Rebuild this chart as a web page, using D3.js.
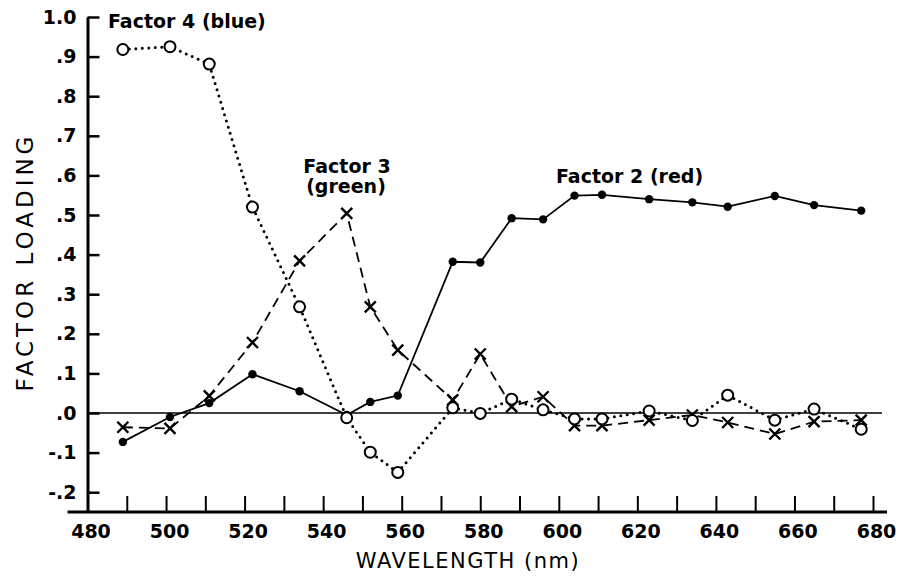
<!DOCTYPE html>
<html>
<head>
<meta charset="utf-8">
<script src="https://cdn.jsdelivr.net/npm/d3@7"></script>
<style>
  body { margin: 0; background: #fff; }
  svg { display: block; }
  .tick text { font-family: "DejaVu Sans", sans-serif; font-weight: bold; font-size: 19px; fill: #000; }
</style>
</head>
<body>
<div id="chart"></div>
<script>
// wavelengths (nm) where the loadings were measured
const wavelengths = [489, 501, 511, 522, 534, 546, 552, 559, 573, 580, 588, 596, 604, 611, 623, 634, 643, 655, 665, 677];

// factor loadings
const factor2 = [-0.073, -0.010, 0.025, 0.098, 0.055, -0.005, 0.028, 0.044, 0.382, 0.380, 0.492, 0.489, 0.549, 0.551, 0.540, 0.532, 0.521, 0.548, 0.525, 0.511];
const factor3 = [-0.036, -0.039, 0.043, 0.178, 0.384, 0.504, 0.268, 0.159, 0.033, 0.149, 0.016, 0.041, -0.032, -0.032, -0.018, -0.005, -0.024, -0.053, -0.022, -0.018];
const factor4 = [0.918, 0.925, 0.881, 0.520, 0.268, -0.012, -0.099, -0.150, 0.013, -0.001, 0.035, 0.008, -0.015, -0.015, 0.005, -0.019, 0.045, -0.018, 0.010, -0.041];

const xTicks = d3.range(480, 681, 10);
const yTicks = [-0.2, -0.1, 0, 0.1, 0.2, 0.3, 0.4, 0.5, 0.6, 0.7, 0.8, 0.9, 1.0];
const yLabels = ["-.2", "-.1", ".0", ".1", ".2", ".3", ".4", ".5", ".6", ".7", ".8", ".9", "1.0"];

const w = 903;
const h = 581;

const svg = d3.select("#chart").
append("svg").
attr("width", w).
attr("height", h);

const xScale = d3.scaleLinear().
domain([480, 680]).
range([87.5, 873]);

const yScale = d3.scaleLinear().
domain([-0.25, 1.0]).
range([512, 17]);

//y axis, ticks pointing into the plot
const yAxis = d3.axisLeft(yScale).
tickValues(yTicks).
tickFormat((d, i) => yLabels[i]).
tickSize(-12).
tickSizeOuter(0).
tickPadding(11);

const gy = svg.append("g").
attr("transform", "translate(" + xScale(480) + ",0)").
call(yAxis);
gy.select(".domain").attr("stroke-width", 3);
gy.selectAll(".tick line").attr("stroke-width", 2.5);

//x axis, ticks every 10 nm, labels every 20
const xAxis = d3.axisBottom(xScale).
tickValues(xTicks).
tickFormat(d => d % 20 === 0 ? d : "").
tickSize(-16).
tickSizeOuter(0).
tickPadding(13);

const gx = svg.append("g").
attr("transform", "translate(0," + yScale(-0.25) + ")").
call(xAxis);
gx.select(".domain").remove();
gx.selectAll(".tick line").attr("stroke-width", 2);
gx.selectAll(".tick text").attr("dx", 3);

//the x axis line runs a little past both ends
gx.append("line").
attr("x1", xScale(480) - 20).
attr("x2", xScale(680) + 14).
attr("stroke", "#000").
attr("stroke-width", 3);

//zero line
svg.append("line").
attr("x1", xScale(480)).
attr("x2", xScale(680) + 9).
attr("y1", yScale(0)).
attr("y2", yScale(0)).
attr("stroke", "#000").
attr("stroke-width", 1.6);

const series = [
  { values: factor2, dash: null, cap: "butt", width: 1.8 },
  { values: factor3, dash: "10,6", cap: "butt", width: 1.8 },
  { values: factor4, dash: "0,6.5", cap: "round", width: 3 }];

const line = d3.line().
x(d => xScale(d[0])).
y(d => yScale(d[1]));

series.forEach(s => {
  svg.append("path").
  datum(wavelengths.map((wl, i) => [wl, s.values[i]])).
  attr("d", line).
  attr("fill", "none").
  attr("stroke", "#000").
  attr("stroke-width", s.width).
  attr("stroke-linecap", s.cap).
  attr("stroke-dasharray", s.dash);
});

//factor 2 markers: filled dots
svg.selectAll(".dot2").
data(wavelengths.map((wl, i) => [wl, factor2[i]])).
enter().
append("circle").
attr("class", "dot2").
attr("cx", d => xScale(d[0])).
attr("cy", d => yScale(d[1])).
attr("r", 4.2).
attr("fill", "#000");

//factor 3 markers: crosses
const cross = 5.5;
svg.selectAll(".cross3").
data(wavelengths.map((wl, i) => [wl, factor3[i]])).
enter().
append("path").
attr("class", "cross3").
attr("d", d => {
  const cx = xScale(d[0]);
  const cy = yScale(d[1]);
  return "M" + (cx - cross) + "," + (cy - cross) + "L" + (cx + cross) + "," + (cy + cross) +
  "M" + (cx - cross) + "," + (cy + cross) + "L" + (cx + cross) + "," + (cy - cross);
}).
attr("stroke", "#000").
attr("stroke-width", 2.4);

//factor 4 markers: open circles
svg.selectAll(".dot4").
data(wavelengths.map((wl, i) => [wl, factor4[i]])).
enter().
append("circle").
attr("class", "dot4").
attr("cx", d => xScale(d[0])).
attr("cy", d => yScale(d[1])).
attr("r", 5.5).
attr("fill", "#fff").
attr("stroke", "#000").
attr("stroke-width", 2);

//series labels
const labelFont = "bold 19px 'DejaVu Sans', sans-serif";
const labels = [
  { text: "Factor 4 (blue)", x: 108, y: 28, anchor: "start" },
  { text: "Factor 3", x: 347, y: 173, anchor: "middle" },
  { text: "(green)", x: 346, y: 193, anchor: "middle" },
  { text: "Factor 2 (red)", x: 556, y: 183, anchor: "start" }];

svg.selectAll(".label").
data(labels).
enter().
append("text").
attr("class", "label").
attr("x", d => d.x).
attr("y", d => d.y).
attr("text-anchor", d => d.anchor).
style("font", labelFont).
text(d => d.text);

//axis titles
svg.append("text").
attr("x", 468).
attr("y", 568).
attr("text-anchor", "middle").
attr("font-family", "'DejaVu Sans', sans-serif").
attr("font-size", 21).
attr("letter-spacing", 1.5).
text("WAVELENGTH (nm)");

svg.append("text").
attr("transform", "translate(33,262) rotate(-90)").
attr("text-anchor", "middle").
attr("font-family", "'DejaVu Sans', sans-serif").
attr("font-size", 23).
attr("letter-spacing", 4).
text("FACTOR LOADING");
</script>
</body>
</html>
